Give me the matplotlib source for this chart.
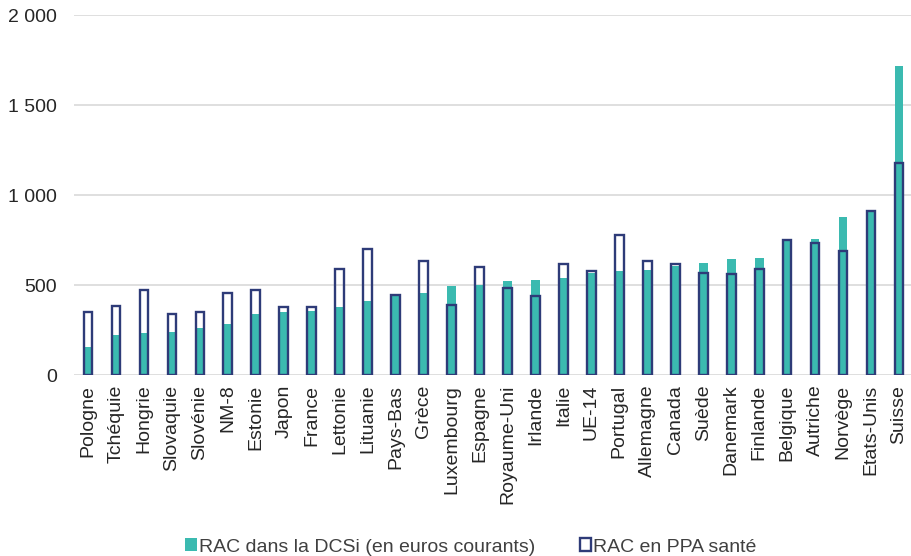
import numpy as np
import matplotlib
matplotlib.use("Agg")
import matplotlib.pyplot as plt
from matplotlib.patches import Patch
from matplotlib.ticker import FuncFormatter

# =======================
# DATA
# =======================
countries = [
    "Pologne", "Tchéquie", "Hongrie", "Slovaquie", "Slovénie", "NM-8",
    "Estonie", "Japon", "France", "Lettonie", "Lituanie", "Pays-Bas",
    "Grèce", "Luxembourg", "Espagne", "Royaume-Uni", "Irlande", "Italie",
    "UE-14", "Portugal", "Allemagne", "Canada", "Suède", "Danemark",
    "Finlande", "Belgique", "Autriche", "Norvège", "Etats-Unis", "Suisse",
]

# reste à charge in current euros
rac_euros = [
    158, 222, 236, 241, 263, 281, 338, 348, 354, 380, 410, 440,
    456, 494, 500, 522, 526, 539, 565, 580, 585, 607, 622, 643,
    649, 743, 755, 880, 905, 1718,
]
# reste à charge in health PPP
rac_ppa = [
    350, 381, 470, 341, 350, 455, 470, 380, 380, 587, 702, 444,
    635, 389, 600, 483, 437, 617, 580, 777, 632, 615, 568, 559,
    589, 751, 736, 691, 913, 1180,
]

# =======================
# STYLE
# =======================
TEAL = "#3BBAB0"
NAVY = "#2E3B78"
GRID = "#D9D9D9"
TEXT = "#262626"
FS = 14

plt.rcParams["font.family"] = ["Liberation Sans", "DejaVu Sans"]

fig = plt.figure(figsize=(9.12, 5.56), dpi=100)
ax = fig.add_axes([74 / 912, 1 - 375 / 556, 839 / 912, 360 / 556])

x = np.arange(len(countries))
width = 0.31

ax.bar(x, rac_euros, width=width, color=TEAL, zorder=2)
ax.bar(x, rac_ppa, width=width, facecolor="none", edgecolor=NAVY,
       linewidth=1.7, zorder=3)

ax.set_xlim(-0.5, len(countries) - 0.5)
ax.set_ylim(0, 2000)
ax.set_yticks([0, 500, 1000, 1500, 2000])
ax.yaxis.set_major_formatter(FuncFormatter(lambda v, p: f"{int(v):,}".replace(",", " ")))
ax.grid(axis="y", color=GRID, linewidth=1.2, zorder=0)
ax.set_axisbelow(True)

ax.set_xticks(x)
ax.set_xticklabels(countries, rotation=90, fontsize=FS, color=TEXT)
ax.tick_params(axis="x", length=0, pad=7)
ax.tick_params(axis="y", length=0, pad=12, labelsize=FS, labelcolor=TEXT)

for s in ax.spines.values():
    s.set_visible(False)

handles = [
    Patch(facecolor=TEAL, edgecolor="none", label="RAC dans la DCSi (en euros courants)"),
    Patch(facecolor="white", edgecolor=NAVY, linewidth=1.7, label="RAC en PPA santé"),
]
fig.legend(handles=handles, loc="center", bbox_to_anchor=(471 / 912, 1 - 547 / 556),
           ncol=2, frameon=False, fontsize=FS, handlelength=0.6, handleheight=0.6,
           handletextpad=0.1, columnspacing=2.3, labelcolor="#404040",
           borderpad=0, borderaxespad=0)

fig.savefig("out.png", dpi=100)
